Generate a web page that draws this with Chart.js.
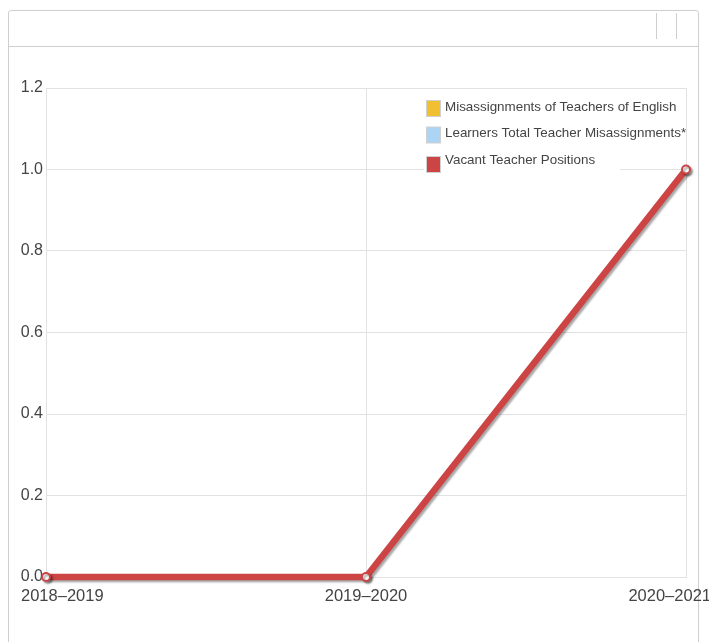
<!DOCTYPE html>
<html>
<head>
<meta charset="utf-8">
<script src="https://cdn.jsdelivr.net/npm/chart.js@4/dist/chart.umd.min.js"></script>
<style>
  html, body { margin: 0; padding: 0; background: #fff; }
  body { width: 709px; height: 642px; position: relative; overflow: hidden; font-family: "Liberation Sans", Arial, sans-serif; }
  .panel { position: absolute; left: 8px; top: 10px; width: 689px; height: 700px; border: 1px solid #cfcfcf; border-radius: 3px 3px 0 0; }
  .panel-head { height: 35px; border-bottom: 1px solid #cfcfcf; position: relative; }
  .sep { position: absolute; top: 2px; width: 1px; height: 26px; background: #cfcfcf; }
  #chart { position: absolute; left: 0; top: 0; }
</style>
</head>
<body>
<div class="panel">
  <div class="panel-head">
    <div class="sep" style="left:647px"></div>
    <div class="sep" style="left:667px"></div>
  </div>
</div>
<canvas id="chart" width="709" height="642"></canvas>
<script>
// School years on the x axis
const years = ['2018\u20132019', '2019\u20132020', '2020\u20132021'];

// Series values (only the vacant positions line is visible, others sit under it)
const englishMisassignments = [0, 0, 1];
const learnersMisassignments = [0, 0, 1];
const vacantPositions = [0, 0, 1];

const seriesNames = [
  'Misassignments of Teachers of English',
  'Learners Total Teacher Misassignments*',
  'Vacant Teacher Positions'
];
const seriesColors = ['#f0c030', '#acd4f4', '#cc4444'];

const yTicks = [0, 0.2, 0.4, 0.6, 0.8, 1.0, 1.2];

// shadow under the red line
const lineShadow = {
  id: 'lineShadow',
  beforeDatasetDraw(chart, args) {
    const ctx = chart.ctx;
    ctx.save();
    if (args.index === 2) {
      ctx.shadowColor = 'rgba(0,0,0,0.35)';
      ctx.shadowOffsetX = 2;
      ctx.shadowOffsetY = 2;
      ctx.shadowBlur = 2;
    }
  },
  afterDatasetDraw(chart) {
    chart.ctx.restore();
  }
};

// x labels, kept inside the panel
const xLabels = {
  id: 'xLabels',
  afterDraw(chart) {
    const ctx = chart.ctx;
    const x = chart.scales.x;
    ctx.save();
    ctx.font = '16.5px "Liberation Sans", Arial, sans-serif';
    ctx.fillStyle = '#444';
    ctx.textBaseline = 'middle';
    ctx.textAlign = 'center';
    years.forEach((lab, i) => {
      const w = ctx.measureText(lab).width;
      let cx = x.getPixelForTick(i);
      cx = Math.max(cx, 21 + w / 2);
      cx = Math.min(cx, 711 - w / 2);
      ctx.fillText(lab, cx, chart.chartArea.bottom + 19);
    });
    ctx.restore();
  }
};

// legend drawn inside the plot, top right
const innerLegend = {
  id: 'innerLegend',
  afterDraw(chart) {
    const ctx = chart.ctx;
    const ca = chart.chartArea;
    const left = ca.left + 380;
    const top = ca.top + 4;
    ctx.save();
    ctx.fillStyle = '#fff';
    ctx.fillRect(left - 2, top, 196, 82);
    ctx.font = '13.4px "Liberation Sans", Arial, sans-serif';
    ctx.textBaseline = 'middle';
    ctx.textAlign = 'left';
    seriesNames.forEach((name, i) => {
      const y = top + 15 + i * 26.5;
      const by = i === 2 ? y - 4 : y - 7;
      ctx.fillStyle = seriesColors[i];
      ctx.fillRect(left + 0.5, by + 0.5, 14, 16);
      ctx.strokeStyle = '#d0d0d0';
      ctx.lineWidth = 1;
      ctx.strokeRect(left + 0.5, by + 0.5, 14, 16);
      ctx.fillStyle = '#444';
      ctx.fillText(name, left + 19, y);
    });
    ctx.restore();
  }
};

const makeSet = (i, data, width) => ({
  label: seriesNames[i],
  data: data,
  borderColor: seriesColors[i],
  backgroundColor: seriesColors[i],
  borderWidth: width,
  pointRadius: i === 2 ? 4 : 0,
  pointBorderWidth: 2,
  pointBackgroundColor: '#fff',
  pointBorderColor: seriesColors[i],
  tension: 0,
  clip: false,
  order: 3 - i
});

new Chart(document.getElementById('chart'), {
  type: 'line',
  data: {
    labels: years,
    datasets: [
      makeSet(0, englishMisassignments, 4),
      makeSet(1, learnersMisassignments, 4),
      makeSet(2, vacantPositions, 6.5)
    ]
  },
  options: {
    responsive: false,
    animation: false,
    layout: { padding: { left: 0, top: 88, right: 23, bottom: 65 } },
    plugins: { legend: { display: false }, tooltip: { enabled: false } },
    scales: {
      x: {
        offset: false,
        grid: { color: '#e2e2e2', drawTicks: false },
        border: { color: '#e2e2e2' },
        ticks: { display: false },
        afterFit(s) { s.height = 0; }
      },
      y: {
        min: 0,
        max: 1.2,
        afterBuildTicks(s) { s.ticks = yTicks.map(v => ({ value: v })); },
        grid: { color: '#e2e2e2', drawTicks: false },
        border: { color: '#e2e2e2' },
        ticks: {
          padding: 3,
          color: '#444',
          font: { family: '"Liberation Sans", Arial, sans-serif', size: 16 },
          callback: v => Number(v).toFixed(1)
        },
        afterFit(s) { s.width = 46; }
      }
    }
  },
  plugins: [lineShadow, xLabels, innerLegend]
});
</script>
</body>
</html>
